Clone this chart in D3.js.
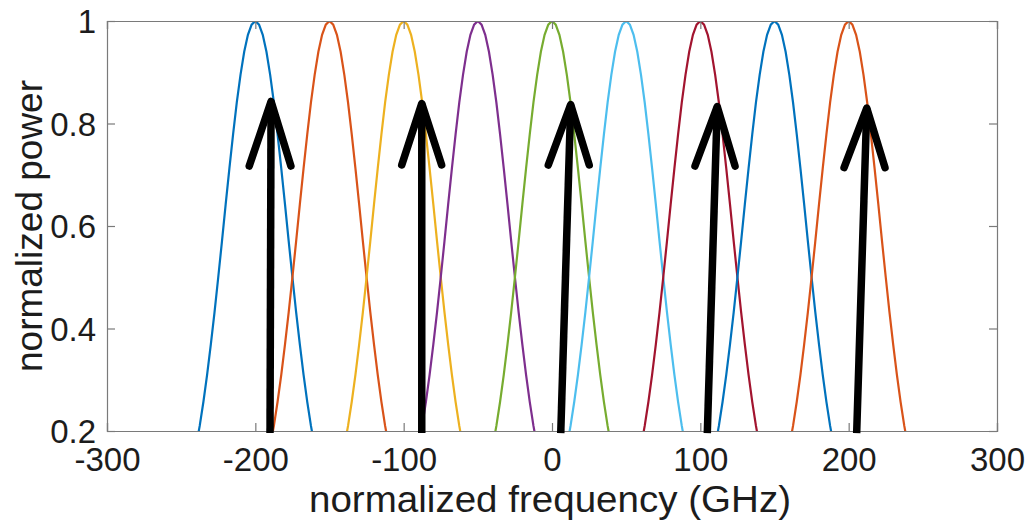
<!DOCTYPE html>
<html>
<head>
<meta charset="utf-8">
<script src="https://cdn.jsdelivr.net/npm/d3@7"></script>
<style>
  body { margin: 0; background: #fff; }
  svg { display: block; font-family: "Liberation Sans", Arial, sans-serif; }
</style>
</head>
<body>
<svg id="chart"></svg>
<script>
// peak centres of the channel spectra (GHz) and their colours
const peakCenters = [-200, -150, -100, -50, 0, 50, 100, 150, 200];
const peakColors = ["#0072BD", "#D95319", "#EDB120", "#7E2F8E", "#77AC30",
                    "#4DBEEE", "#A2142F", "#0072BD", "#D95319"];

// shape of one spectrum (offset from centre in GHz, power)
const profileOffsets = [-45, -42.5, -40, -37.5, -35, -32.5, -30, -27.5, -25, -22.5, -20, -17.5,
                        -15, -12.5, -10, -7.5, -5, -2.5, 0, 2.5, 5, 7.5, 10, 12.5, 15, 17.5,
                        20, 22.5, 25, 27.5, 30, 32.5, 35, 37.5, 40, 42.5, 45];
const profileValues  = [0.106, 0.135, 0.170, 0.210, 0.257, 0.310, 0.369, 0.432, 0.50, 0.570, 0.642, 0.712,
                        0.779, 0.841, 0.895, 0.940, 0.973, 0.993, 1.0, 0.993, 0.973, 0.940, 0.895, 0.841,
                        0.779, 0.712, 0.642, 0.570, 0.50, 0.432, 0.369, 0.310, 0.257, 0.210, 0.170, 0.135, 0.106];

// black arrows: base x, tip x, tip y, wing x's, wing y
const arrowBaseX = [-190.1, -87.8, 5.9, 104.7, 205.4];
const arrowTipX  = [-189.4, -87.8, 12.6, 111.4, 212.2];
const arrowTipY  = [0.843, 0.839, 0.837, 0.833, 0.830];
const arrowWingL = [-204.1, -101.3, -2.5, 96.4, 196.9];
const arrowWingR = [-176.0, -74.4, 25.1, 123.4, 224.5];
const arrowWingY = [0.717, 0.719, 0.719, 0.717, 0.714];
const arrowBaseY = 0.196;

const xTicks = [-300, -200, -100, 0, 100, 200, 300];
const yTicks = [0.2, 0.4, 0.6, 0.8, 1];

const W = 1029, H = 529;
const plotL = 107, plotR = 997, plotT = 21, plotB = 431;

const svg = d3.select("#chart").attr("width", W).attr("height", H);

const x = d3.scaleLinear().domain([-300, 300]).range([plotL, plotR]);
const y = d3.scaleLinear().domain([0.2, 1]).range([plotB, plotT]);

svg.append("defs").append("clipPath").attr("id", "plotclip")
  .append("rect")
  .attr("x", plotL).attr("y", plotT)
  .attr("width", plotR - plotL).attr("height", plotB - plotT);

// spectra
const line = d3.line()
  .x(d => x(d[0]))
  .y(d => y(d[1]));

const curves = svg.append("g").attr("clip-path", "url(#plotclip)");
peakCenters.forEach((c, i) => {
  const pts = profileOffsets.map((o, k) => [c + o, profileValues[k]]);
  curves.append("path")
    .attr("d", line(pts))
    .attr("fill", "none")
    .attr("stroke", peakColors[i])
    .attr("stroke-width", 2.2);
});

// axes with inward ticks on all four sides
const axisColor = "#7a7a7a";
const tickLen = 8;

const xBottom = svg.append("g")
  .attr("transform", `translate(0,${plotB})`)
  .call(d3.axisBottom(x).tickValues(xTicks).tickSize(-tickLen).tickPadding(17)
    .tickFormat(d => d));
const xTop = svg.append("g")
  .attr("transform", `translate(0,${plotT})`)
  .call(d3.axisTop(x).tickValues(xTicks).tickSize(-tickLen).tickFormat(""));
const yLeft = svg.append("g")
  .attr("transform", `translate(${plotL},0)`)
  .call(d3.axisLeft(y).tickValues(yTicks).tickSize(-tickLen).tickPadding(11)
    .tickFormat(d => d));
const yRight = svg.append("g")
  .attr("transform", `translate(${plotR},0)`)
  .call(d3.axisRight(y).tickValues(yTicks).tickSize(-tickLen).tickFormat(""));

[xBottom, xTop, yLeft, yRight].forEach(g => {
  g.select(".domain").attr("stroke", axisColor).attr("stroke-width", 1.2);
  g.selectAll(".tick line").attr("stroke", axisColor).attr("stroke-width", 1.2);
  g.selectAll(".tick text")
    .attr("fill", "#1c1c1c")
    .style("font-size", "33px")
    .style("font-family", "'Liberation Sans', Arial, sans-serif");
});
yLeft.selectAll(".tick text").attr("dy", "0.36em");

// axis labels
svg.append("text")
  .attr("x", 550)
  .attr("y", 512)
  .attr("text-anchor", "middle")
  .attr("fill", "#1c1c1c")
  .attr("textLength", 482)
  .attr("lengthAdjust", "spacingAndGlyphs")
  .style("font-size", "36px")
  .text("normalized frequency (GHz)");

svg.append("text")
  .attr("transform", `translate(42,226) rotate(-90)`)
  .attr("text-anchor", "middle")
  .attr("fill", "#1c1c1c")
  .style("font-size", "37px")
  .text("normalized power");

// arrows
const arrows = svg.append("g")
  .attr("fill", "none")
  .attr("stroke", "#000")
  .attr("stroke-width", 7.5)
  .attr("stroke-linecap", "round")
  .attr("stroke-linejoin", "round");

arrowBaseX.forEach((bx, i) => {
  arrows.append("path")
    .attr("stroke-linecap", "butt")
    .attr("d", `M${x(bx)},${y(arrowBaseY)}L${x(arrowTipX[i])},${y(arrowTipY[i])}`);
  arrows.append("path")
    .attr("d", `M${x(arrowWingL[i])},${y(arrowWingY[i])}L${x(arrowTipX[i])},${y(arrowTipY[i])}L${x(arrowWingR[i])},${y(arrowWingY[i])}`);
});
</script>
</body>
</html>
